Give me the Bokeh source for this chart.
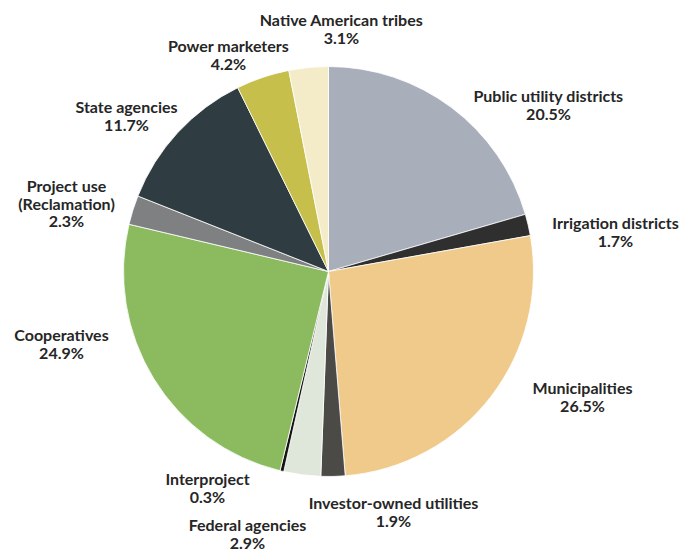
import math
from bokeh.plotting import figure
from bokeh.models import Range1d, ColumnDataSource
from bokeh.core.properties import value
from bokeh.embed import file_html
from bokeh.resources import INLINE

# ---- data ----
categories = ["Public utility districts", "Irrigation districts", "Municipalities",
              "Investor-owned utilities", "Federal agencies", "Interproject",
              "Cooperatives", "Project use\n(Reclamation)", "State agencies",
              "Power marketers", "Native American tribes"]
shares = [20.5, 1.7, 26.5, 1.9, 2.9, 0.3, 24.9, 2.3, 11.7, 4.2, 3.1]
colors = ["#a9afba", "#2f2f2f", "#efca8a", "#4b4a47", "#dfe6da", "#151515",
          "#8bbb5e", "#7e8081", "#2f3c42", "#c6bf4c", "#f4ecc8"]

# ---- layout (page pixels, origin at top-left of figure) ----
W, H = 694, 554
CX, CY, R = 328, 271, 205
label_pos = [(548, 95), (615, 222), (582, 387), (393, 502), (247, 524), (207, 478),
             (61, 334), (66, 185), (126, 106), (228, 45), (341, 19)]
LINE = 17.5

total = sum(shares)
starts, ends = [], []
acc = 0.0
for s in shares:
    starts.append(math.pi / 2 - acc / total * 2 * math.pi)
    acc += s
    ends.append(math.pi / 2 - acc / total * 2 * math.pi)

p = figure(width=W, height=H, output_backend="svg", toolbar_location=None,
           x_range=Range1d(0, W), y_range=Range1d(0, H), min_border=0)
p.axis.visible = False
p.grid.visible = False
p.outline_line_color = None
p.background_fill_color = "white"

src = ColumnDataSource(dict(start=starts, end=ends, color=colors, cat=categories))
p.wedge(x=CX, y=H - CY, radius=R, start_angle="start", end_angle="end",
        direction="clock", fill_color="color", line_color="white", line_width=0.8,
        source=src)

xs, ys, txt = [], [], []
for cat, s, (lx, ly) in zip(categories, shares, label_pos):
    lines = cat.split("\n") + [f"{s}%"]
    for i, t in enumerate(lines):
        xs.append(lx)
        ys.append(H - (ly + i * LINE))
        txt.append(t)

p.text(x=xs, y=ys, text=txt, text_font=value("Lato"), text_font_style="bold",
       text_font_size="16px", text_color="#262626", text_align="center",
       text_baseline="middle")

open("out.html", "w").write(file_html(p, INLINE))
